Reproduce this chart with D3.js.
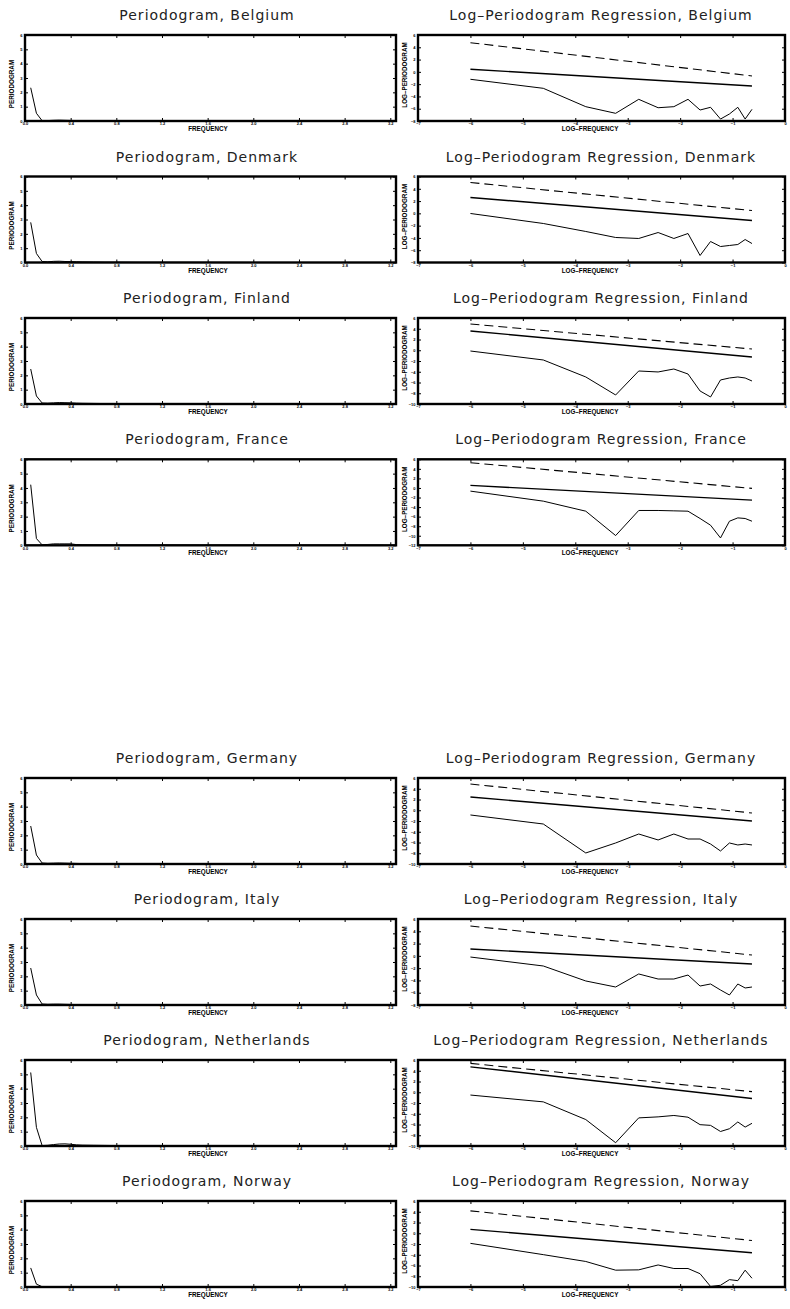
<!DOCTYPE html>
<html>
<head>
<meta charset="utf-8">
<script src="https://cdn.jsdelivr.net/npm/d3@7"></script>
<style>
  body { margin: 0; background: #fff; }
  svg { display: block; }
  .title { font-family: "DejaVu Sans", sans-serif; font-size: 14px; letter-spacing: 1px; fill: #222; font-weight: normal; }
  .lab { font-family: "Liberation Sans", Arial, sans-serif; font-size: 6.3px; font-weight: bold; fill: #000; }
  .tick text { font-family: "Liberation Sans", Arial, sans-serif; font-size: 4px; font-weight: bold; fill: #000; }
</style>
</head>
<body>
<div id="chart"></div>
<script>
// Countries, one row each (left: periodogram, right: log-periodogram regression)
const countries = ['Belgium', 'Denmark', 'Finland', 'France', 'Germany', 'Italy', 'Netherlands', 'Norway'];

// Periodogram (left panels)
const freq = [0.05, 0.10, 0.15, 0.20, 0.25, 0.30, 0.35, 0.40, 0.45, 0.50, 0.60, 0.70, 0.80, 1.00, 1.20, 1.60, 2.00, 2.40, 2.80, 3.14];
const pgBelgium     = [2.32, 0.54, 0.02, 0.03, 0.05, 0.06, 0.05, 0.04, 0.03, 0.03, 0.02, 0.02, 0.01, 0.01, 0.01, 0.00, 0.00, 0.00, 0.00, 0.00];
const pgDenmark     = [2.80, 0.63, 0.07, 0.05, 0.08, 0.09, 0.07, 0.06, 0.05, 0.04, 0.03, 0.02, 0.02, 0.01, 0.01, 0.01, 0.00, 0.00, 0.00, 0.00];
const pgFinland     = [2.44, 0.56, 0.07, 0.06, 0.08, 0.10, 0.09, 0.08, 0.06, 0.05, 0.04, 0.03, 0.02, 0.02, 0.01, 0.01, 0.00, 0.00, 0.00, 0.00];
const pgFrance      = [4.23, 0.47, 0.03, 0.06, 0.10, 0.10, 0.10, 0.10, 0.05, 0.03, 0.02, 0.02, 0.01, 0.01, 0.01, 0.00, 0.00, 0.00, 0.00, 0.00];
const pgGermany     = [2.65, 0.63, 0.07, 0.05, 0.06, 0.07, 0.06, 0.05, 0.04, 0.03, 0.02, 0.02, 0.01, 0.01, 0.01, 0.00, 0.00, 0.00, 0.00, 0.00];
const pgItaly       = [2.58, 0.70, 0.07, 0.05, 0.06, 0.06, 0.05, 0.04, 0.03, 0.03, 0.02, 0.02, 0.01, 0.01, 0.01, 0.00, 0.00, 0.00, 0.00, 0.00];
const pgNetherlands = [5.13, 1.30, 0.03, 0.05, 0.10, 0.14, 0.15, 0.12, 0.08, 0.06, 0.05, 0.04, 0.03, 0.03, 0.02, 0.01, 0.01, 0.00, 0.00, 0.00];
const pgNorway      = [1.33, 0.20, 0.02, 0.02, 0.03, 0.03, 0.02, 0.02, 0.01, 0.01, 0.01, 0.01, 0.00, 0.00, 0.00, 0.00, 0.00, 0.00, 0.00, 0.00];
const periodogram = [pgBelgium, pgDenmark, pgFinland, pgFrance, pgGermany, pgItaly, pgNetherlands, pgNorway];

// Log-periodogram (right panels)
const logFreq = [-6.00, -4.61, -3.80, -3.23, -2.79, -2.42, -2.12, -1.85, -1.62, -1.42, -1.23, -1.06, -0.90, -0.76, -0.63];
const lpBelgium     = [-1.21, -2.68, -5.67, -6.75, -4.47, -5.84, -5.67, -4.47, -6.21, -5.77, -7.68, -6.86, -5.77, -7.68, -6.10];
const lpDenmark     = [-0.02, -1.65, -2.95, -3.93, -4.09, -3.12, -4.09, -3.28, -6.86, -4.58, -5.40, -5.23, -5.07, -4.26, -4.91];
const lpFinland     = [-0.14, -1.81, -4.97, -8.32, -3.86, -4.04, -3.49, -4.42, -7.58, -8.69, -5.53, -5.16, -4.97, -5.16, -5.72];
const lpFrance      = [-0.66, -2.76, -4.86, -9.96, -4.71, -4.71, -4.79, -4.86, -6.39, -7.80, -10.46, -6.96, -6.26, -6.39, -6.96];
const lpGermany     = [-0.88, -2.56, -7.95, -6.09, -4.42, -5.53, -4.42, -5.35, -5.35, -6.28, -7.58, -6.09, -6.46, -6.28, -6.46];
const lpItaly       = [-0.19, -1.65, -4.09, -5.07, -2.95, -3.77, -3.77, -3.12, -4.91, -4.58, -5.56, -6.37, -4.58, -5.23, -5.07];
const lpNetherlands = [-0.52, -1.79, -5.08, -9.39, -4.77, -4.58, -4.32, -4.64, -6.03, -6.16, -7.30, -6.79, -5.53, -6.48, -5.78];
const lpNorway      = [-1.88, -3.98, -5.25, -6.87, -6.81, -5.90, -6.56, -6.56, -7.53, -9.90, -9.68, -8.63, -8.82, -6.87, -8.37];
const logPeriodogram = [lpBelgium, lpDenmark, lpFinland, lpFrance, lpGermany, lpItaly, lpNetherlands, lpNorway];

// Fitted regression line (solid) and upper line (dashed): value at first and last log-frequency
const fitLines   = [[0.42, -2.30], [2.58, -1.16], [3.58, -1.26], [0.54, -2.55], [2.47, -2.00], [1.12, -1.33], [4.73, -1.16], [0.73, -3.63]];
const boundLines = [[4.75, -0.67], [5.02, 0.46], [4.88, 0.23], [5.29, -0.09], [4.88, -0.51], [4.86, 0.14], [5.37, 0.11], [4.17, -1.35]];

// Tick values
const freqTicks = [0, 0.4, 0.8, 1.2, 1.6, 2.0, 2.4, 2.8, 3.2];
const pgTicks = [0, 1, 2, 3, 4, 5, 6];
const logFreqTicks = [-7, -6, -5, -4, -3, -2, -1, 0];
const lpTicks8  = [-8, -6, -4, -2, 0, 2, 4, 6];
const lpTicks9  = [-10, -8, -6, -4, -2, 0, 2, 4, 6];
const lpTicks10 = [-12, -10, -8, -6, -4, -2, 0, 2, 4, 6];
const lpTicks = [lpTicks8, lpTicks8, lpTicks9, lpTicks10, lpTicks9, lpTicks8, lpTicks9, lpTicks9];

// Layout
const W = 790, H = 1309;
const rowTops = [35, 176.5, 318, 459.3, 778, 919, 1060, 1201];
const panelH = 86;
const leftX = [25, 396];
const rightX = [418, 785];

const svg = d3.select('#chart').append('svg')
    .attr('width', W)
    .attr('height', H);

function frameAxes(g, x, y, xTicks, yTicks, xFmt) {
    const [x0, x1] = x.range();
    const [y1, y0] = y.range();
    g.append('g').attr('class', 'axis')
        .attr('transform', `translate(0,${y1})`)
        .call(d3.axisBottom(x).tickValues(xTicks).tickSize(-3).tickPadding(1.5).tickFormat(xFmt))
        .call(a => a.select('.domain').remove());
    g.append('g').attr('class', 'axis')
        .attr('transform', `translate(0,${y0})`)
        .call(d3.axisTop(x).tickValues(xTicks).tickSize(-3).tickFormat(''))
        .call(a => a.select('.domain').remove());
    g.append('g').attr('class', 'axis')
        .attr('transform', `translate(${x0},0)`)
        .call(d3.axisLeft(y).tickValues(yTicks).tickSize(-3).tickPadding(2.5).tickFormat(d3.format('d')))
        .call(a => a.select('.domain').remove());
    g.append('g').attr('class', 'axis')
        .attr('transform', `translate(${x1},0)`)
        .call(d3.axisRight(y).tickValues(yTicks).tickSize(-3).tickFormat(''))
        .call(a => a.select('.domain').remove());
    g.selectAll('.tick line').attr('stroke', '#000').attr('stroke-width', 1);

    g.append('rect')
        .attr('x', x0).attr('y', y0)
        .attr('width', x1 - x0).attr('height', y1 - y0)
        .attr('fill', 'none')
        .attr('stroke', '#000')
        .attr('stroke-width', 2.4);
}

countries.forEach((name, i) => {
    const top = rowTops[i];
    const bottom = top + panelH;

    // ---- Left: periodogram
    const gl = svg.append('g');
    const xl = d3.scaleLinear().domain([0, 3.25]).range(leftX);
    const yl = d3.scaleLinear().domain([0, 6]).range([bottom, top]);

    gl.append('text').attr('class', 'title')
        .attr('x', 207).attr('y', top - 15)
        .attr('text-anchor', 'middle')
        .text(`Periodogram, ${name}`);

    const pts = freq.map((f, k) => [f, periodogram[i][k]]);
    gl.append('path')
        .datum(pts)
        .attr('fill', 'none')
        .attr('stroke', '#000')
        .attr('stroke-width', 1)
        .attr('d', d3.line().x(d => xl(d[0])).y(d => yl(d[1])));

    frameAxes(gl, xl, yl, freqTicks, pgTicks, d3.format('.1f'));

    gl.append('text').attr('class', 'lab')
        .attr('x', 208).attr('y', bottom + 10)
        .attr('text-anchor', 'middle')
        .text('FREQUENCY');
    gl.append('text').attr('class', 'lab')
        .attr('transform', `translate(14,${top + 49}) rotate(-90)`)
        .attr('text-anchor', 'middle')
        .text('PERIODOGRAM');

    // ---- Right: log-periodogram regression
    const gr = svg.append('g');
    const ticks = lpTicks[i];
    const xr = d3.scaleLinear().domain([-7, 0]).range(rightX);
    const yr = d3.scaleLinear().domain([ticks[0], ticks[ticks.length - 1]]).range([bottom, top]);

    gr.append('text').attr('class', 'title')
        .attr('x', 601).attr('y', top - 15)
        .attr('text-anchor', 'middle')
        .text(`Log\u2013Periodogram Regression, ${name}`);

    const line = d3.line().x(d => xr(d[0])).y(d => yr(d[1]));
    const xa = logFreq[0], xb = logFreq[logFreq.length - 1];

    gr.append('path')
        .datum([[xa, boundLines[i][0]], [xb, boundLines[i][1]]])
        .attr('fill', 'none')
        .attr('stroke', '#000')
        .attr('stroke-width', 1.1)
        .attr('stroke-dasharray', '9,5')
        .attr('d', line);

    gr.append('path')
        .datum([[xa, fitLines[i][0]], [xb, fitLines[i][1]]])
        .attr('fill', 'none')
        .attr('stroke', '#000')
        .attr('stroke-width', 1.4)
        .attr('d', line);

    gr.append('path')
        .datum(logFreq.map((f, k) => [f, logPeriodogram[i][k]]))
        .attr('fill', 'none')
        .attr('stroke', '#000')
        .attr('stroke-width', 1)
        .attr('d', line);

    frameAxes(gr, xr, yr, logFreqTicks, ticks, d3.format('d'));

    gr.append('text').attr('class', 'lab')
        .attr('x', 590).attr('y', bottom + 10)
        .attr('text-anchor', 'middle')
        .text('LOG\u2013FREQUENCY');
    gr.append('text').attr('class', 'lab')
        .attr('transform', `translate(407,${top + 40}) rotate(-90)`)
        .attr('text-anchor', 'middle')
        .text('LOG\u2013PERIODOGRAM');
});
</script>
</body>
</html>
